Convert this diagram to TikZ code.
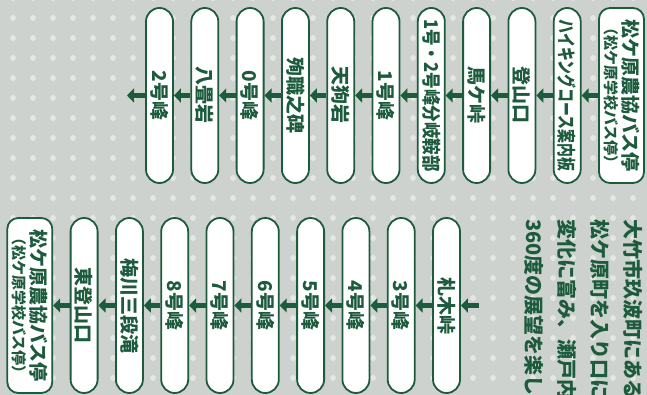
\documentclass[tikz,border=0pt]{standalone}
\usepackage{fontspec}
\usepackage{graphicx}
\newfontfamily\jpfont{Noto Sans CJK JP}
\usetikzlibrary{arrows.meta}
\definecolor{routegreen}{HTML}{1D5B3D}
\definecolor{bggray}{HTML}{CDD2CE}
\definecolor{dotgray}{HTML}{E4E7E4}

\begin{document}
\begin{tikzpicture}[x=1pt,y=1pt,
  stop/.style={draw=routegreen,line width=1.8pt,fill=white,rotate=-90,
    minimum width=175pt,minimum height=27pt,rounded corners=13.5pt,
    inner sep=0pt,text=routegreen,
    font=\jpfont\bfseries\fontsize{19pt}{21pt}\selectfont},
  busstop/.style={stop,minimum height=45pt,rounded corners=11pt,align=center},
  note/.style={rotate=-90,anchor=west,inner sep=0pt,text=routegreen,
    font=\jpfont\bfseries\fontsize{20pt}{22pt}\selectfont},
  flow/.style={-{Triangle[length=7pt,width=14pt]},line width=5pt,draw=routegreen}]
\useasboundingbox (0,0) rectangle (647,-395);
\clip (0,0) rectangle (647,-395);
\fill[bggray] (0,0) rectangle (647,-395);
\foreach \i in {0,...,32}
  \foreach \j in {0,...,20}
    \fill[dotgray] (13+20*\i,2-20*\j) circle (3pt);
% upper route
\node[busstop] (busstart) at (621.5,-95.5)
  {松ケ原農協バス停\\[-3pt]{\fontsize{15pt}{16pt}\selectfont （松ケ原学校バス停）}};
\node[stop] (guide) at (567.2,-95.5) {\scalebox{0.73}[1]{ハイキングコース案内板}};
\node[stop] (trailhead) at (521.9,-95.5) {登山口};
\node[stop] (umagatoge) at (476.6,-95.5) {馬ケ峠};
\node[stop] (saddle) at (431.3,-95.5) {\scalebox{0.87}[1]{1号・2号峰分岐鞍部}};
\node[stop] (peak1) at (386,-95.5) {1号峰};
\node[stop] (tengu) at (340.7,-95.5) {天狗岩};
\node[stop] (monument) at (295.4,-95.5) {殉職之碑};
\node[stop] (peak0) at (250.1,-95.5) {0号峰};
\node[stop] (hachijo) at (204.8,-95.5) {八畳岩};
\node[stop] (peak2) at (159.5,-95.5) {2号峰};
\coordinate (upperexit) at (127,-95.5);
% lower route
\coordinate (lowerentry) at (479,-305.5);
\node[stop] (fudagi) at (446.5,-305.5) {札木峠};
\node[stop] (peak3) at (401.2,-305.5) {3号峰};
\node[stop] (peak4) at (355.9,-305.5) {4号峰};
\node[stop] (peak5) at (310.6,-305.5) {5号峰};
\node[stop] (peak6) at (265.3,-305.5) {6号峰};
\node[stop] (peak7) at (220,-305.5) {7号峰};
\node[stop] (peak8) at (174.7,-305.5) {8号峰};
\node[stop] (umekawa) at (129.4,-305.5) {梅川三段滝};
\node[stop] (easthead) at (84.1,-305.5) {東登山口};
\node[busstop] (busend) at (29.8,-305.5)
  {松ケ原農協バス停\\[-3pt]{\fontsize{15pt}{16pt}\selectfont （松ケ原学校バス停）}};
% description
\node[note] (line1) at (633,-219) {大竹市玖波町にある};
\node[note] (line2) at (600,-219) {松ケ原町を入り口に};
\node[note] (line3) at (567,-219) {変化に富み、瀬戸内};
\node[note] (line4) at (534,-219) {360度の展望を楽し};
\draw[flow] (busstart) -- (guide);
\draw[flow] (guide) -- (trailhead);
\draw[flow] (trailhead) -- (umagatoge);
\draw[flow] (umagatoge) -- (saddle);
\draw[flow] (saddle) -- (peak1);
\draw[flow] (peak1) -- (tengu);
\draw[flow] (tengu) -- (monument);
\draw[flow] (monument) -- (peak0);
\draw[flow] (peak0) -- (hachijo);
\draw[flow] (hachijo) -- (peak2);
\draw[flow] (peak2) -- (upperexit);
\draw[flow] (lowerentry) -- (fudagi);
\draw[flow] (fudagi) -- (peak3);
\draw[flow] (peak3) -- (peak4);
\draw[flow] (peak4) -- (peak5);
\draw[flow] (peak5) -- (peak6);
\draw[flow] (peak6) -- (peak7);
\draw[flow] (peak7) -- (peak8);
\draw[flow] (peak8) -- (umekawa);
\draw[flow] (umekawa) -- (easthead);
\draw[flow] (easthead) -- (busend);
\end{tikzpicture}
\end{document}
